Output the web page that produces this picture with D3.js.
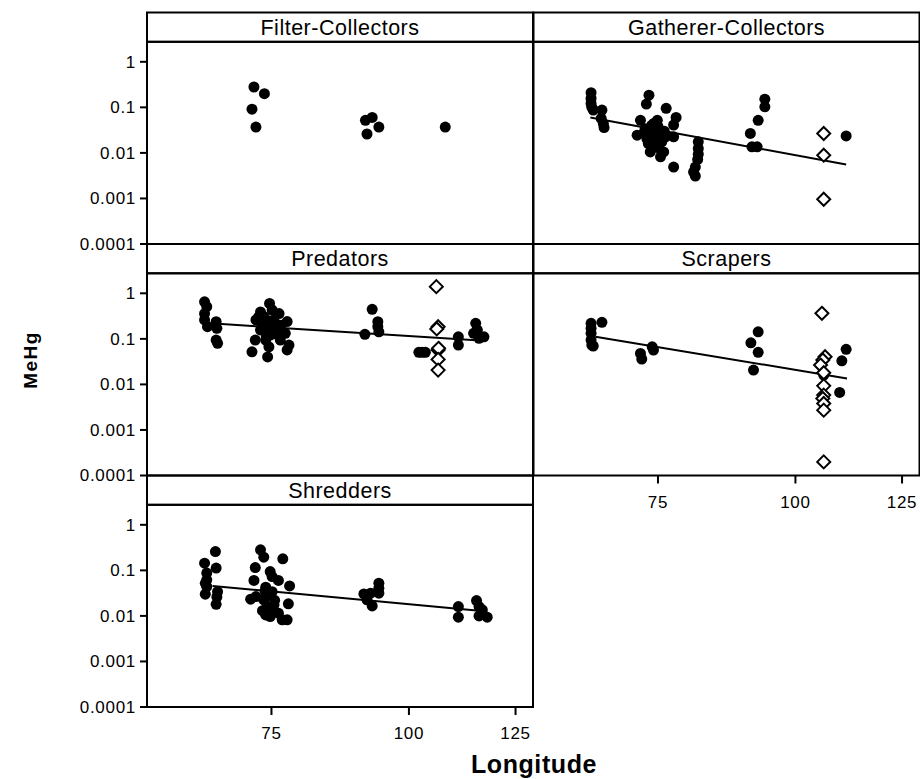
<!DOCTYPE html>
<html>
<head>
<meta charset="utf-8">
<script src="https://cdn.jsdelivr.net/npm/d3@7"></script>
<style>
  body { margin: 0; background: #fff; }
  text { font-family: "Liberation Sans", Arial, sans-serif; fill: #000; }
</style>
</head>
<body>
<div id="chart"></div>
<script>
// longitude / MeHg pairs
const filterPts = [[72.3, 0.28], [73.9, 0.20], [72.0, 0.091], [72.6, 0.037], [91.3, 0.052], [92.6, 0.060],
    [93.9, 0.037], [91.6, 0.026], [107.9, 0.037]];

const gathererPts = [[65.2, 0.21], [65.2, 0.157], [65.2, 0.122], [65.3, 0.10], [65.5, 0.087], [66.7, 0.087],
    [66.6, 0.057], [66.9, 0.044], [67.0, 0.036], [73.6, 0.185], [73.2, 0.118], [76.3, 0.095], [77.9, 0.060],
    [77.5, 0.041], [72.3, 0.052], [74.9, 0.052], [71.8, 0.0245], [73.0, 0.034], [73.8, 0.027], [74.5, 0.034],
    [75.4, 0.031], [76.2, 0.0225], [77.5, 0.0225], [73.5, 0.016], [74.5, 0.016], [75.6, 0.0175], [73.8, 0.0105],
    [75.4, 0.0082], [75.9, 0.0105], [77.5, 0.0049], [74.3, 0.044], [72.8, 0.027], [74.0, 0.04], [75.0, 0.038],
    [74.6, 0.025], [76.0, 0.03], [73.3, 0.02], [75.0, 0.013], [81.6, 0.0175], [81.6, 0.0125], [81.6, 0.0094],
    [81.5, 0.0072], [81.1, 0.0049], [80.8, 0.0038], [81.1, 0.0031], [93.8, 0.151], [93.8, 0.1025], [92.5, 0.052],
    [91.0, 0.0267], [91.3, 0.0136], [92.3, 0.0136], [111.2, 0.0236]];
const gathererOpen = [[106.1, 0.0267], [106.1, 0.0089], [106.1, 0.00096]];

const predatorPts = [[65.2, 0.65], [65.5, 0.51], [65.2, 0.36], [65.2, 0.26], [65.6, 0.185], [66.8, 0.2375],
    [66.9, 0.17], [66.8, 0.094], [67.0, 0.080], [74.7, 0.60], [73.3, 0.39], [76.2, 0.36], [73.8, 0.31],
    [75.4, 0.26], [77.5, 0.24], [74.3, 0.20], [73.3, 0.156], [75.9, 0.17], [77.2, 0.132], [74.8, 0.121],
    [72.5, 0.094], [74.1, 0.094], [76.4, 0.094], [77.8, 0.073], [72.0, 0.052], [74.6, 0.067], [77.5, 0.057],
    [74.4, 0.040], [72.6, 0.26], [75.1, 0.43], [74.0, 0.15], [75.0, 0.18], [74.5, 0.25], [73.5, 0.21],
    [75.5, 0.13], [74.2, 0.11], [76.5, 0.2], [73.0, 0.3], [92.6, 0.445], [91.2, 0.126], [93.7, 0.2375],
    [93.7, 0.185], [93.9, 0.143], [102.1, 0.0505], [102.8, 0.0505], [103.5, 0.0505], [110.9, 0.111],
    [110.9, 0.073], [115.0, 0.219], [115.4, 0.156], [115.8, 0.1026], [117.0, 0.111], [114.5, 0.132]];
const predatorOpen = [[105.9, 1.40], [106.3, 0.1845], [106.0, 0.165], [106.3, 0.0567], [106.4, 0.062],
    [106.3, 0.0354], [106.3, 0.0206]];

const scraperPts = [[65.2, 0.219], [65.2, 0.170], [65.2, 0.132], [65.2, 0.094], [65.3, 0.073], [65.5, 0.0695],
    [66.7, 0.2305], [72.3, 0.048], [72.5, 0.036], [74.1, 0.067], [74.3, 0.0567], [92.5, 0.143], [91.1, 0.082],
    [92.5, 0.0505], [91.6, 0.0206], [106.1, 0.016], [111.2, 0.0588], [110.2, 0.033], [109.7, 0.00667]];
const scraperOpen = [[105.7, 0.3635], [106.4, 0.0404], [105.9, 0.0342], [105.4, 0.0266], [106.1, 0.018],
    [106.1, 0.0093], [106.1, 0.00582], [105.9, 0.00492], [106.1, 0.00382], [106.1, 0.00272], [106.1, 0.000199]];

const shredderPts = [[65.2, 0.144], [65.5, 0.087], [65.5, 0.062], [65.3, 0.052], [65.5, 0.044], [65.3, 0.030],
    [66.7, 0.259], [66.8, 0.112], [67.0, 0.034], [66.9, 0.026], [66.8, 0.018], [73.3, 0.282], [73.8, 0.195],
    [76.8, 0.179], [72.5, 0.115], [72.3, 0.060], [74.8, 0.094], [75.1, 0.073], [76.1, 0.060], [77.9, 0.0456],
    [74.1, 0.0427], [75.1, 0.034], [71.8, 0.0233], [72.6, 0.0266], [73.8, 0.0225], [74.3, 0.016], [75.4, 0.0175],
    [77.7, 0.0184], [74.1, 0.0105], [74.8, 0.0097], [76.1, 0.0115], [76.7, 0.0082], [77.5, 0.0082], [74.5, 0.028],
    [75.5, 0.022], [73.6, 0.013], [75.0, 0.012], [74.0, 0.035], [91.0, 0.0304], [91.6, 0.0225], [92.6, 0.0166],
    [93.9, 0.0523], [93.9, 0.0406], [93.9, 0.0315], [92.3, 0.0315], [110.9, 0.016], [110.9, 0.0094],
    [115.2, 0.0217], [115.8, 0.016], [115.8, 0.010], [117.8, 0.0094], [116.6, 0.0136]];

// fitted lines, end points
const gathererFit = [[65.1, 0.060], [111.2, 0.00556]];
const predatorFit = [[66.0, 0.219], [117.0, 0.0908]];
const scraperFit = [[65.8, 0.111], [111.4, 0.01355]];
const shredderFit = [[66.3, 0.0456], [117.8, 0.01244]];

const yTicks = [1, 0.1, 0.01, 0.001, 0.0001];
const yTickLabels = ['1', '0.1', '0.01', '0.001', '0.0001'];
const xTicks = [75, 100, 125];

const panels = [
    { title: 'Filter-Collectors', col: 0, row: 0, pts: filterPts, open: [], fit: null, xAxis: false },
    { title: 'Gatherer-Collectors', col: 1, row: 0, pts: gathererPts, open: gathererOpen, fit: gathererFit, xAxis: false },
    { title: 'Predators', col: 0, row: 1, pts: predatorPts, open: predatorOpen, fit: predatorFit, xAxis: false },
    { title: 'Scrapers', col: 1, row: 1, pts: scraperPts, open: scraperOpen, fit: scraperFit, xAxis: true },
    { title: 'Shredders', col: 0, row: 2, pts: shredderPts, open: [], fit: shredderFit, xAxis: true },
];

const svgWidth = 920;
const svgHeight = 779;
const colX = [147, 533.5];
const colW = 386;
const top0 = 12.5;
const rowH = 231.5;
const stripH = 29.3;
const plotH = rowH - stripH;

const svg = d3.select('#chart').append('svg').attr('width', svgWidth).attr('height', svgHeight);

const xScale = d3.scaleLog().domain([57.8, 129.65]).range([0, colW]);
const yScale = d3.scaleLog().domain([0.0001, 2.75]).range([plotH, 0]);

const diamond = 'M0,-6.5L6.5,0L0,6.5L-6.5,0Z';

panels.forEach((p) => {
    const g = svg.append('g')
        .attr('transform', `translate(${colX[p.col]}, ${top0 + p.row * rowH})`);

    // strip
    g.append('rect')
        .attr('width', colW).attr('height', stripH)
        .attr('fill', 'none').attr('stroke', '#000').attr('stroke-width', 2);
    g.append('text')
        .attr('x', colW / 2).attr('y', stripH / 2 + 7.5)
        .attr('text-anchor', 'middle')
        .attr('font-size', 21.5)
        .attr('letter-spacing', 0.5)
        .text(p.title);

    const plot = g.append('g').attr('transform', `translate(0, ${stripH})`);
    plot.append('rect')
        .attr('width', colW).attr('height', plotH)
        .attr('fill', 'none').attr('stroke', '#000').attr('stroke-width', 2);

    if (p.fit) {
        plot.append('line')
            .attr('x1', xScale(p.fit[0][0])).attr('y1', yScale(p.fit[0][1]))
            .attr('x2', xScale(p.fit[1][0])).attr('y2', yScale(p.fit[1][1]))
            .attr('stroke', '#000').attr('stroke-width', 2);
    }

    plot.selectAll('.dot')
        .data(p.pts)
        .enter()
        .append('circle')
        .attr('class', 'dot')
        .attr('cx', (d) => xScale(d[0]))
        .attr('cy', (d) => yScale(d[1]))
        .attr('r', 5.5)
        .attr('fill', '#000');

    plot.selectAll('.open')
        .data(p.open)
        .enter()
        .append('path')
        .attr('class', 'open')
        .attr('d', diamond)
        .attr('transform', (d) => `translate(${xScale(d[0])}, ${yScale(d[1])})`)
        .attr('fill', '#fff')
        .attr('stroke', '#000')
        .attr('stroke-width', 2);

    if (p.col === 0) {
        const yAxis = plot.append('g');
        yAxis.selectAll('line')
            .data(yTicks)
            .enter()
            .append('line')
            .attr('x1', -7).attr('x2', 0)
            .attr('y1', (d) => yScale(d)).attr('y2', (d) => yScale(d))
            .attr('stroke', '#000').attr('stroke-width', 2);
        yAxis.selectAll('text')
            .data(yTicks)
            .enter()
            .append('text')
            .attr('x', -11)
            .attr('y', (d) => yScale(d) + 6)
            .attr('text-anchor', 'end')
            .attr('font-size', 17)
            .attr('letter-spacing', 0.7)
            .text((d, i) => yTickLabels[i]);
    }

    if (p.xAxis) {
        const xAxis = plot.append('g').attr('transform', `translate(0, ${plotH})`);
        xAxis.selectAll('line')
            .data(xTicks)
            .enter()
            .append('line')
            .attr('x1', (d) => xScale(d)).attr('x2', (d) => xScale(d))
            .attr('y1', 0).attr('y2', 8)
            .attr('stroke', '#000').attr('stroke-width', 2);
        xAxis.selectAll('text')
            .data(xTicks)
            .enter()
            .append('text')
            .attr('x', (d) => xScale(d))
            .attr('y', 32)
            .attr('text-anchor', 'middle')
            .attr('font-size', 17)
            .attr('letter-spacing', 0.7)
            .text((d) => d);
    }
});

svg.append('text')
    .attr('x', 534)
    .attr('y', 773)
    .attr('text-anchor', 'middle')
    .attr('font-size', 25)
    .attr('font-weight', 'bold')
    .attr('letter-spacing', 0.6)
    .text('Longitude');

svg.append('text')
    .attr('transform', 'translate(37, 360) rotate(-90)')
    .attr('text-anchor', 'middle')
    .attr('font-size', 19)
    .attr('font-weight', 'bold')
    .attr('letter-spacing', 1.5)
    .text('MeHg');
</script>
</body>
</html>
